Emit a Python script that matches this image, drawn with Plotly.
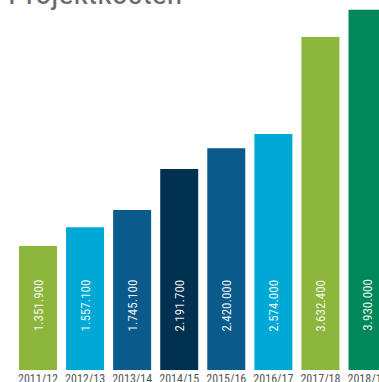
import plotly.graph_objects as go

categories = ["2011/12", "2012/13", "2013/14", "2014/15", "2015/16", "2016/17", "2017/18", "2018/19"]
values = [1351900, 1557100, 1745100, 2191700, 2420000, 2574000, 3632400, 3930000]
colors = ["#8DB63C", "#00A8D5", "#0A5A8B", "#003151", "#0A5A8B", "#00A8D5", "#8DB63C", "#00875A"]
title_text = "Projektkosten"

def fmt(v):
    return f"{v:,}".replace(",", ".")

narrow = "Liberation Sans Narrow, Arial Narrow, Roboto Condensed, sans-serif"

fig = go.Figure()
fig.add_trace(go.Bar(
    x=categories, y=values,
    marker=dict(color=colors, line=dict(width=0)),
    hoverinfo="skip",
))

annotations = []
for c, v in zip(categories, values):
    annotations.append(dict(
        x=c, y=0.40e6, xref="x", yref="y",
        text=fmt(v), showarrow=False, textangle=-90,
        xanchor="center", yanchor="bottom",
        font=dict(family=narrow, size=13, color="rgba(255,255,255,0.92)"),
    ))
annotations.append(dict(
    x=0, y=1, xref="paper", yref="paper", xanchor="left", yanchor="bottom",
    text=title_text, showarrow=False, yshift=-14, xshift=6,
    font=dict(family=narrow, size=32, color="#6b6b6b"),
))

fig.update_layout(
    width=379, height=382,
    margin=dict(l=0, r=0, t=0, b=12, autoexpand=False),
    paper_bgcolor="white", plot_bgcolor="white",
    bargap=0.193,
    showlegend=False,
    annotations=annotations,
    xaxis=dict(
        range=[-0.807, 7.244], showgrid=False, zeroline=False, showline=False,
        ticks="", tickfont=dict(family=narrow, size=12, color="#555555"),
        fixedrange=True, automargin=False,
    ),
    yaxis=dict(range=[0, 4.036e6], visible=False, fixedrange=True, automargin=False),
)

fig.write_html(
    "out.html",
    config={"displayModeBar": False},
    post_script="document.body.style.margin='0';document.body.style.overflow='hidden';",
)
